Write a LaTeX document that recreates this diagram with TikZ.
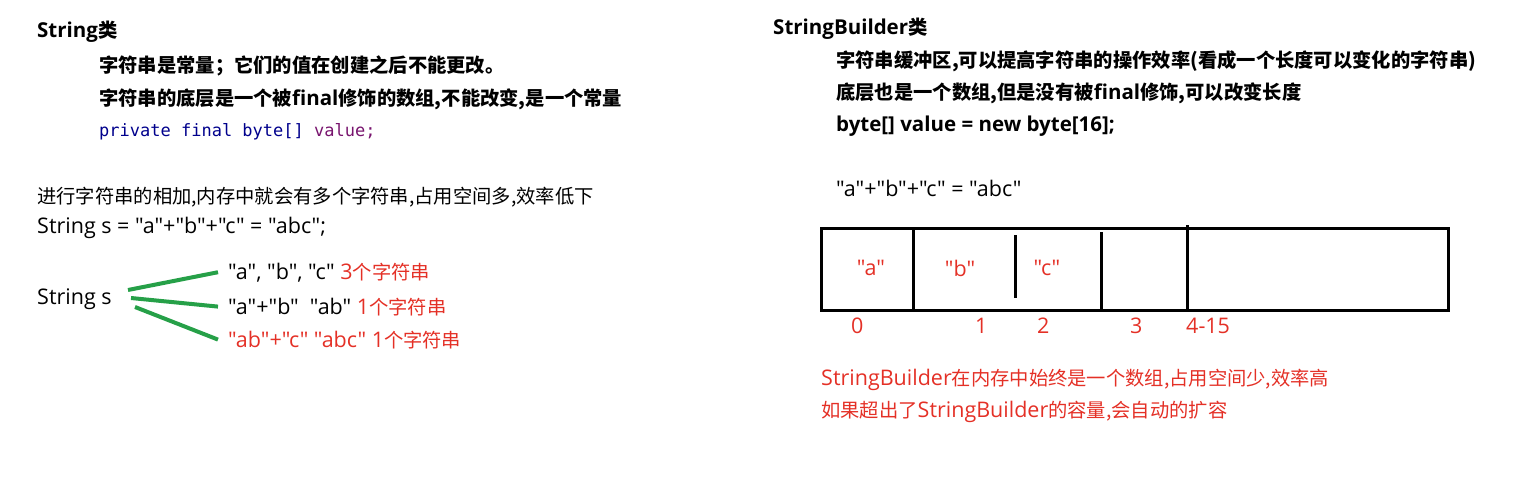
\documentclass[tikz,border=0pt]{standalone}
\usepackage{fontspec}
\setmainfont{Noto Sans CJK SC}[Ligatures=TeXOff]
\newfontfamily\latinfont{Open Sans}[Ligatures=TeXOff]
\newfontfamily\codefont{DejaVu Sans Mono}
\newcommand\lat[1]{{\latinfont\fontsize{21.5}{24}\selectfont #1}}
\newcommand\blat[1]{{\latinfont\fontsize{20.5}{24}\selectfont #1}}
\usepackage{xcolor}
\definecolor{notered}{RGB}{228,48,38}
\definecolor{forkgreen}{RGB}{38,160,72}
\definecolor{kwblue}{RGB}{0,0,140}
\definecolor{kwpurple}{RGB}{120,20,110}
\begin{document}
\begin{tikzpicture}[x=1pt,y=-1pt,
    txt/.style={anchor=base west,inner sep=0pt,font=\fontsize{19.3}{22}\selectfont},
    head/.style={txt,font=\fontsize{19.3}{22}\selectfont\bfseries},
    redtxt/.style={txt,text=notered},
    branch/.style={forkgreen,line width=4pt},
    cellwall/.style={line width=3pt}]
  \useasboundingbox (0,0) rectangle (1516,490);
  % String
  \node[head] (strhead) at (37,37) {\blat{String}类};
  \node[head] (strconst) at (99,72) {字符串是常量；它们的值在创建之后不能更改。};
  \node[head] (strfinal) at (99,105) {字符串的底层是一个被\blat{final}修饰的数组,不能改变,是一个常量};
  \node[txt,font=\fontsize{17}{20}\codefont] (strcode) at (99,136)
    {\textcolor{kwblue}{private final byte[]} \textcolor{kwpurple}{value;}};
  \node[txt] (stradd) at (37,203) {进行字符串的相加,内存中就会有多个字符串,占用空间多,效率低下};
  \node[txt] (strexpr) at (37,233) {\lat{String s = "a"+"b"+"c" = "abc";}};
  \node[txt] (strvar) at (37,304) {\lat{String s}};
  \node[txt] (br1) at (228,279) {\lat{"a", "b", "c" }\textcolor{notered}{\lat{3}个字符串}};
  \node[txt] (br2) at (228,314) {\lat{"a"+"b"~ "ab" }\textcolor{notered}{\lat{1}个字符串}};
  \node[redtxt] (br3) at (228,347) {\lat{"ab"+"c" "abc" 1}个字符串};
  \coordinate (fork1) at (128,290);
  \coordinate (fork2) at (131,298);
  \coordinate (fork3) at (135,307);
  \draw[branch] (fork1) -- ([xshift=-10pt]br1.west);
  \draw[branch] (fork2) -- ([xshift=-10pt]br2.west);
  \draw[branch] (fork3) -- ([xshift=-10pt]br3.west);
  % StringBuilder
  \node[head] (sbhead) at (773,34) {\blat{StringBuilder}类};
  \node[head] (sbbuf) at (836,67) {字符串缓冲区,可以提高字符串的操作效率(看成一个长度可以变化的字符串)};
  \node[head] (sbarr) at (836,99) {底层也是一个数组,但是没有被\blat{final}修饰,可以改变长度};
  \node[head] (sbcode) at (836,131) {\blat{byte[] value = new byte[16];}};
  \node[txt] (sbexpr) at (836,196) {\lat{"a"+"b"+"c" = "abc"}};
  \draw[cellwall] (821,228) rectangle (1448,310);
  \draw[cellwall] (913,228) -- (913,310);
  \draw[cellwall] (1015,235) -- (1015,298);
  \draw[cellwall] (1101,232) -- (1101,310);
  \draw[cellwall] (1187,225) -- (1187,310);
  \foreach \cx/\ch in {871/a,960/b,1047/c}
    \node[redtxt,anchor=center] (cell\ch) at (\cx,268) {\lat{"\ch"}};
  \foreach \ix/\idx in {851/0,975/1,1037/2,1130/3,1186/4-15}
    \node[redtxt] (idx\ix) at (\ix,333) {\lat{\idx}};
  \node[redtxt] (sbmem) at (821,385) {\lat{StringBuilder}在内存中始终是一个数组,占用空间少,效率高};
  \node[redtxt] (sbgrow) at (821,417) {如果超出了\lat{StringBuilder}的容量,会自动的扩容};
\end{tikzpicture}
\end{document}
